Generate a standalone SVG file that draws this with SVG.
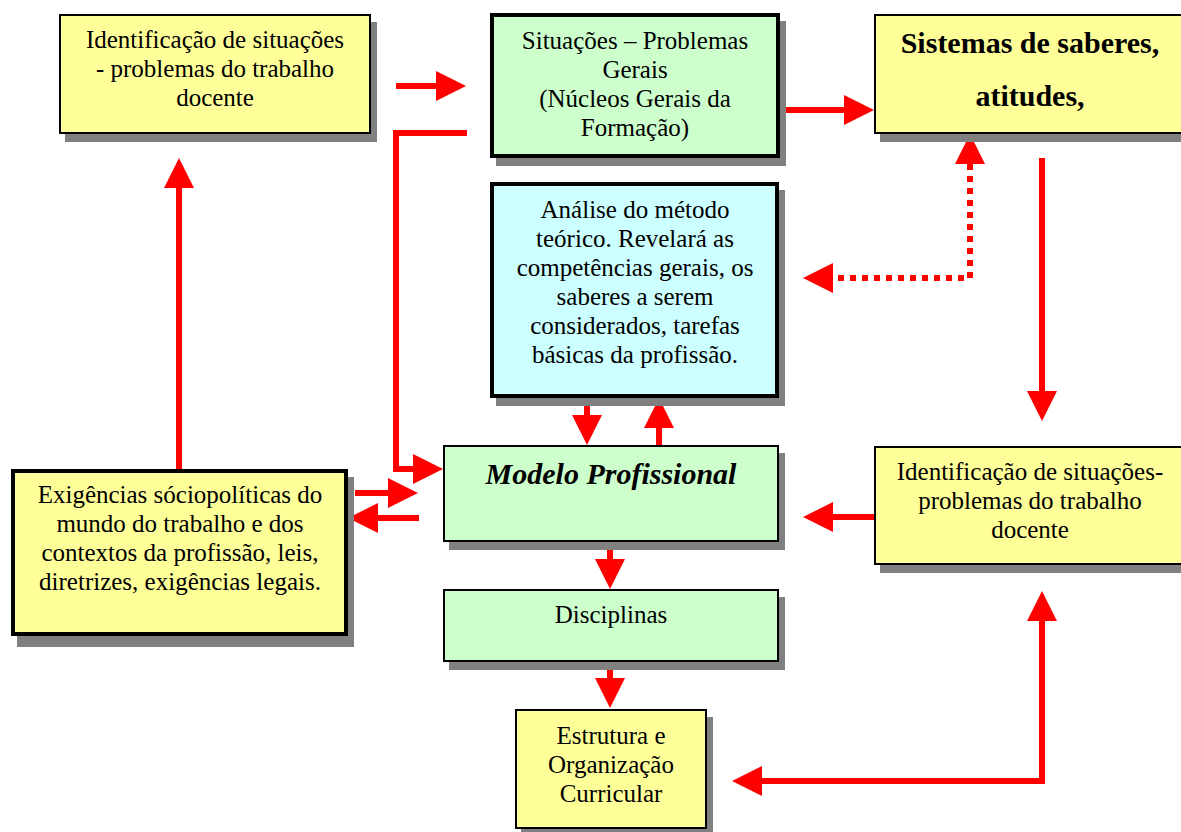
<svg xmlns="http://www.w3.org/2000/svg" width="1181" height="832" viewBox="0 0 1181 832">
  <style>
    .shadow { fill: #808080; }
    .box { stroke: #000000; }
    .thin { stroke-width: 2; }
    .thick { stroke-width: 4; }
    .yellow { fill: #FFFF99; }
    .green { fill: #CCFFCC; }
    .cyan { fill: #CCFFFF; }
    .lbl { font-family: "Liberation Serif", "Times New Roman", serif; font-size: 25px; fill: #000000; text-anchor: middle; }
    .bold { font-weight: bold; font-size: 30px; }
    .bolditalic { font-weight: bold; font-style: italic; font-size: 30px; }
    .conn { fill: none; stroke: #FF0000; stroke-width: 6; }
    .dotted { stroke-dasharray: 6 6; }
  </style>
  <defs>
    <marker id="head" markerUnits="userSpaceOnUse" markerWidth="32" markerHeight="32" refX="0" refY="15" orient="auto" overflow="visible">
      <path d="M0,0 L30,15 L0,30 Z" fill="#FF0000"/>
    </marker>
    <marker id="headStart" markerUnits="userSpaceOnUse" markerWidth="32" markerHeight="32" refX="0" refY="15" orient="auto-start-reverse" overflow="visible">
      <path d="M0,0 L30,15 L0,30 Z" fill="#FF0000"/>
    </marker>
  </defs>

  <rect x="0" y="0" width="1181" height="832" fill="#FFFFFF"/>

  <!-- connectors -->
  <g id="connectors">
    <path class="conn" d="M396,86 H436" marker-end="url(#head)"/>
    <path class="conn" d="M467,133 H396 V469 H413" marker-end="url(#head)"/>
    <path class="conn" d="M780,110 H844" marker-end="url(#head)"/>
    <path class="conn" d="M179,469 V188" marker-end="url(#head)"/>
    <path class="conn" d="M355,493 H388" marker-end="url(#head)"/>
    <path class="conn" d="M419,518 H378" marker-end="url(#head)"/>
    <path class="conn" d="M587,398 V415" marker-end="url(#head)"/>
    <path class="conn" d="M659,445 V428" marker-end="url(#head)"/>
    <path class="conn dotted" d="M970,164 V278 H833" marker-start="url(#headStart)" marker-end="url(#head)"/>
    <path class="conn" d="M1042,158 V391" marker-end="url(#head)"/>
    <path class="conn" d="M874,517 H833" marker-end="url(#head)"/>
    <path class="conn" d="M610,542 V559" marker-end="url(#head)"/>
    <path class="conn" d="M610,662 V678" marker-end="url(#head)"/>
    <path class="conn" d="M762,781 H1042 V621" marker-start="url(#headStart)" marker-end="url(#head)"/>
  </g>

  <!-- top-left: identification of problem situations -->
  <g id="node-identificacao-topo">
    <rect class="shadow" x="65" y="22" width="312" height="120"/>
    <rect class="box thin yellow" x="60" y="15" width="310" height="118"/>
    <text class="lbl" x="215" y="48">Identificação de situações</text>
    <text class="lbl" x="215" y="77">- problemas do trabalho</text>
    <text class="lbl" x="215" y="106">docente</text>
  </g>

  <!-- general problem situations -->
  <g id="node-situacoes-gerais">
    <rect class="shadow" x="496" y="21" width="290" height="145"/>
    <rect class="box thick green" x="492" y="15" width="286" height="141"/>
    <text class="lbl" x="635" y="49">Situações – Problemas</text>
    <text class="lbl" x="635" y="78">Gerais</text>
    <text class="lbl" x="635" y="107">(Núcleos Gerais da</text>
    <text class="lbl" x="635" y="136">Formação)</text>
  </g>

  <!-- knowledge systems -->
  <g id="node-sistemas">
    <rect class="shadow" x="880" y="22" width="312" height="120"/>
    <rect class="box thin yellow" x="875" y="15" width="310" height="118"/>
    <text class="lbl bold" x="1030" y="53">Sistemas de saberes,</text>
    <text class="lbl bold" x="1030" y="106">atitudes,</text>
  </g>

  <!-- method analysis -->
  <g id="node-analise">
    <rect class="shadow" x="496" y="190" width="289" height="216"/>
    <rect class="box thick cyan" x="492" y="184" width="285" height="212"/>
    <text class="lbl" x="635" y="218">Análise do método</text>
    <text class="lbl" x="635" y="247">teórico. Revelará as</text>
    <text class="lbl" x="635" y="276">competências gerais, os</text>
    <text class="lbl" x="635" y="305">saberes a serem</text>
    <text class="lbl" x="635" y="334">considerados, tarefas</text>
    <text class="lbl" x="635" y="363">básicas da profissão.</text>
  </g>

  <!-- professional model -->
  <g id="node-modelo">
    <rect class="shadow" x="449" y="453" width="336" height="97"/>
    <rect class="box thin green" x="444" y="446" width="334" height="95"/>
    <text class="lbl bolditalic" x="611" y="484">Modelo Profissional</text>
  </g>

  <!-- socio-political demands -->
  <g id="node-exigencias">
    <rect class="shadow" x="17" y="477" width="337" height="170"/>
    <rect class="box thick yellow" x="13" y="471" width="333" height="163"/>
    <text class="lbl" x="180" y="503">Exigências sóciopolíticas do</text>
    <text class="lbl" x="180" y="532">mundo do trabalho e dos</text>
    <text class="lbl" x="180" y="561">contextos da profissão, leis,</text>
    <text class="lbl" x="180" y="590">diretrizes, exigências legais.</text>
  </g>

  <!-- right: identification of problem situations -->
  <g id="node-identificacao-direita">
    <rect class="shadow" x="880" y="454" width="312" height="119"/>
    <rect class="box thin yellow" x="875" y="447" width="310" height="117"/>
    <text class="lbl" x="1030" y="480">Identificação de situações-</text>
    <text class="lbl" x="1030" y="509">problemas do trabalho</text>
    <text class="lbl" x="1030" y="538">docente</text>
  </g>

  <!-- disciplines -->
  <g id="node-disciplinas">
    <rect class="shadow" x="449" y="597" width="336" height="73"/>
    <rect class="box thin green" x="444" y="590" width="334" height="71"/>
    <text class="lbl" x="611" y="623">Disciplinas</text>
  </g>

  <!-- curricular structure -->
  <g id="node-estrutura">
    <rect class="shadow" x="521" y="717" width="192" height="120"/>
    <rect class="box thin yellow" x="516" y="710" width="190" height="118"/>
    <text class="lbl" x="611" y="744">Estrutura e</text>
    <text class="lbl" x="611" y="773">Organização</text>
    <text class="lbl" x="611" y="802">Curricular</text>
  </g>
</svg>
